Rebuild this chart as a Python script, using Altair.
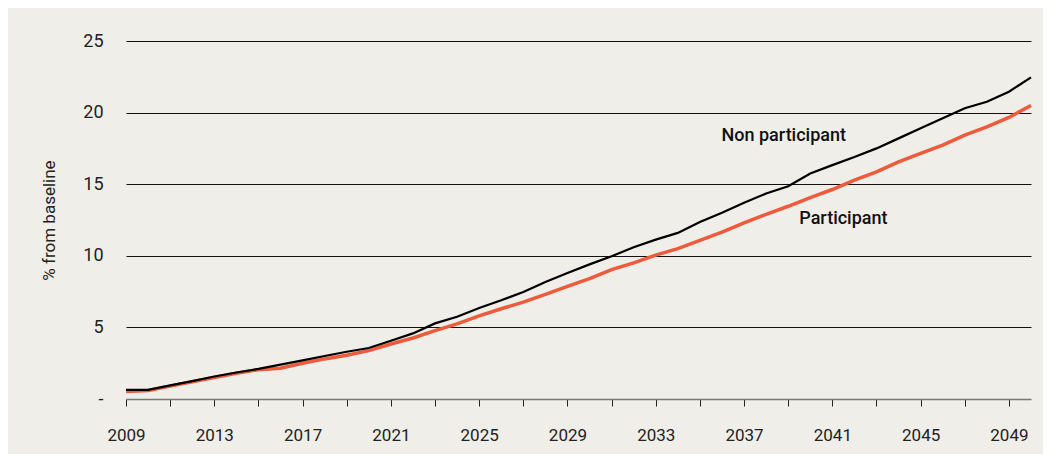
import altair as alt
import pandas as pd

years = list(range(2009, 2051))
non_participant = [0.64, 0.64, 0.95, 1.25, 1.57, 1.85, 2.1, 2.4, 2.7, 3.0, 3.3, 3.56,
                   4.07, 4.58, 5.28, 5.74, 6.35, 6.89, 7.47, 8.17, 8.8, 9.4, 9.97, 10.6,
                   11.13, 11.6, 12.36, 13.0, 13.7, 14.35, 14.86, 15.75, 16.33, 16.9, 17.5,
                   18.2, 18.9, 19.6, 20.3, 20.76, 21.46, 22.46]
participant = [0.52, 0.6, 0.9, 1.2, 1.5, 1.8, 2.05, 2.15, 2.5, 2.8, 3.05, 3.38,
               3.84, 4.26, 4.77, 5.24, 5.8, 6.3, 6.77, 7.3, 7.87, 8.4, 9.03, 9.5,
               10.05, 10.5, 11.08, 11.66, 12.3, 12.9, 13.46, 14.07, 14.63, 15.28, 15.86,
               16.56, 17.15, 17.73, 18.43, 19.0, 19.66, 20.5]
y_ticks = [0, 5, 10, 15, 20, 25]
label_text = ["Non participant", "Participant"]
label_year = [2038.8, 2041.5]
label_value = [18.4, 12.6]

FONT = "Liberation Sans Narrow, Roboto, sans-serif"
BG = "#efeee9"

df = pd.DataFrame({
    "year": years * 2,
    "value": non_participant + participant,
    "series": ["Non participant"] * len(years) + ["Participant"] * len(years),
})
labels = pd.DataFrame({"year": label_year, "value": label_value, "text": label_text})

x_scale = alt.Scale(domain=[2009, 2050], nice=False, zero=False)
y_scale = alt.Scale(domain=[0, 25], nice=False)

base = alt.Chart(df).encode(
    x=alt.X("year:Q", scale=x_scale,
            axis=alt.Axis(values=years, format="d", title=None, grid=False,
                          labelExpr="(datum.value - 2009) % 4 == 0 ? datum.label : ''",
                          tickSize=7, tickColor="#222", tickWidth=1,
                          domainColor="#777", domainWidth=1.5,
                          labelFontSize=17, labelColor="#222", labelPadding=21,
                          labelFont=FONT, labelFlush=False)),
    y=alt.Y("value:Q", scale=y_scale,
            axis=alt.Axis(values=y_ticks, title="% from baseline", domain=False,
                          ticks=False, grid=True, gridColor="#111", gridWidth=1,
                          gridOpacity=alt.ExprRef("datum.value == 0 ? 0 : 1"),
                          labelExpr="datum.value == 0 ? '-' : datum.label",
                          labelFontSize=18, labelColor="#222", labelPadding=23,
                          labelFont=FONT, titleFont=FONT, titleFontSize=17,
                          titleFontWeight="normal", titleColor="#222", titlePadding=24)),
)

red = base.transform_filter(alt.datum.series == "Participant").mark_line(
    color="#f05a3c", strokeWidth=3.5)
black = base.transform_filter(alt.datum.series == "Non participant").mark_line(
    color="#000000", strokeWidth=2.2)

text = alt.Chart(labels).mark_text(
    font=FONT, fontSize=18, fontWeight=500, color="#111", align="center", baseline="middle"
).encode(x=alt.X("year:Q", scale=x_scale), y=alt.Y("value:Q", scale=y_scale), text="text:N")

chart = alt.layer(red, black, text).properties(
    width=905, height=358, background=BG,
    padding={"left": 118, "top": 33, "right": 12, "bottom": 55},
    autosize=alt.AutoSizeParams(type="none"),
).configure_view(stroke=None)

chart.save("out.html", embed_options={"renderer": "svg", "actions": False})
